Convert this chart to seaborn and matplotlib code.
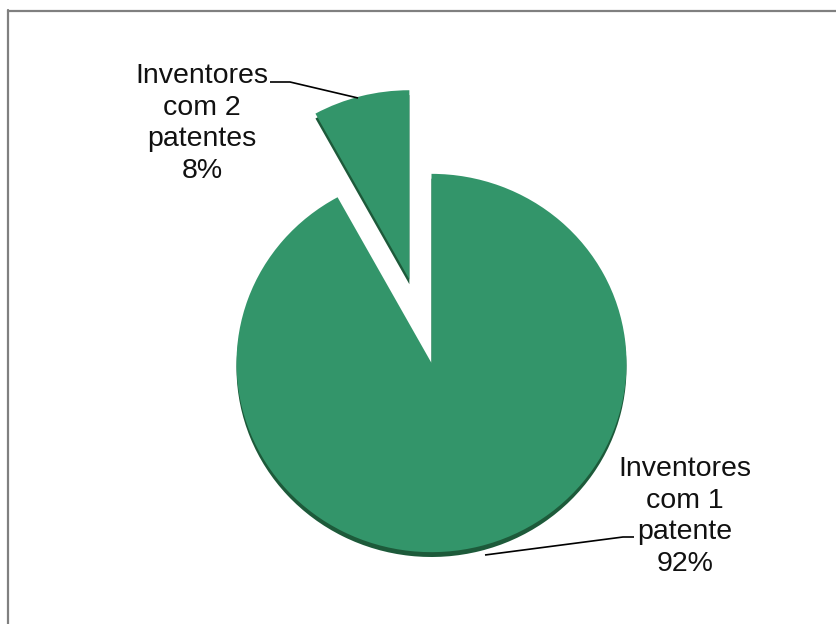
import matplotlib
matplotlib.use("Agg")
import matplotlib.pyplot as plt
from matplotlib.lines import Line2D
import seaborn as sns

sns.set_theme(style="white")
plt.rcParams["font.family"] = ["Liberation Sans", "DejaVu Sans"]

# Share of inventors by number of patents
categories = ["Inventores\ncom 2\npatentes", "Inventores\ncom 1\npatente"]
shares = [8, 92]

face = "#33956A"
side = "#1D5A3A"

W, H = 837, 624
tilt = 0.97  # slight vertical squash for a tilted-disc look

fig = plt.figure(figsize=(W / 100, H / 100), dpi=100)

# pie drawn in its own axes, vertically compressed
pax = fig.add_axes([0, 0, 1, 1])
cx, cy, r = 431.5, (H - 363) / tilt, 195
explode = [89.0, 0.0]  # offset in data units

pax.pie(shares, explode=explode, startangle=90, counterclock=True,
        center=(cx, cy - 5), radius=r, colors=[side, side],
        wedgeprops=dict(linewidth=0))
pax.pie(shares, explode=explode, startangle=90, counterclock=True,
        center=(cx, cy), radius=r, colors=[face, face],
        wedgeprops=dict(linewidth=0))
pax.set_aspect("auto")
pax.set_xlim(0, W)
pax.set_ylim(0, H / tilt)
pax.axis("off")

# overlay in pixel units for labels and leader lines
ax = fig.add_axes([0, 0, 1, 1])
ax.set_xlim(0, W)
ax.set_ylim(0, H)
ax.axis("off")
ax.patch.set_alpha(0)

labels = [f"{c}\n{s}%" for c, s in zip(categories, shares)]
ax.text(202, H - 123.5, labels[0], ha="center", va="center",
        fontsize=20.5, linespacing=1.28, color="#111111")
ax.text(685, H - 516.5, labels[1], ha="center", va="center",
        fontsize=20.5, linespacing=1.28, color="#111111")

ax.plot([270, 290, 358], [H - 82, H - 82, H - 98], color="black", lw=1.2,
        solid_capstyle="butt")
ax.plot([485, 623, 634], [H - 555, H - 537, H - 537], color="black", lw=1.2,
        solid_capstyle="butt")

# chart-area frame (left and top edges)
fig.add_artist(Line2D([8 / W, 8 / W], [0, 1 - 10 / H], color="#808080",
                      lw=1.6, transform=fig.transFigure))
fig.add_artist(Line2D([8 / W, 1], [1 - 11 / H, 1 - 11 / H], color="#808080",
                      lw=1.6, transform=fig.transFigure))

fig.savefig("out.png", dpi=100, facecolor="white")
